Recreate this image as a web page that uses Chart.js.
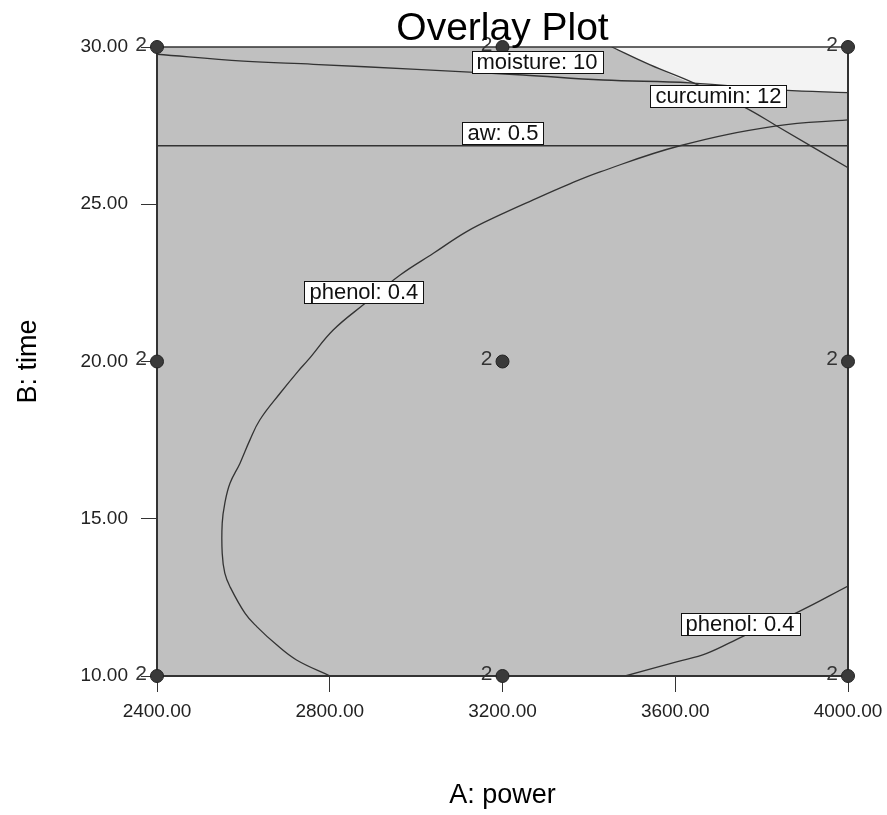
<!DOCTYPE html>
<html>
<head>
<meta charset="utf-8">
<script src="https://cdn.jsdelivr.net/npm/chart.js@4.4.1/dist/chart.umd.min.js"></script>
<style>
html,body{margin:0;padding:0;background:#fff;}
canvas{display:block;}
</style>
</head>
<body>
<canvas id="c" width="887" height="815" style="width:887px;height:815px"></canvas>
<script>
// ---- data ----
const chartTitle = 'Overlay Plot';
const xTitle = 'A: power';
const yTitle = 'B: time';
const xTicks = [2400, 2800, 3200, 3600, 4000];
const yTicks = [10, 15, 20, 25, 30];

const designPower = [2400, 3200, 4000, 2400, 3200, 4000, 2400, 3200, 4000];
const designTime  = [30, 30, 30, 20, 20, 20, 10, 10, 10];
const designReps  = [2, 2, 2, 2, 2, 2, 2, 2, 2];

const moisturePower = [2400, 2600, 2762, 3001, 3247, 3433, 3634, 3850, 4000];
const moistureTime  = [29.77, 29.55, 29.45, 29.29, 29.11, 28.95, 28.86, 28.63, 28.55];

const curcuminPower = [3453, 3542, 3642, 3761, 3835, 4000];
const curcuminTime  = [30.00, 29.43, 28.86, 28.08, 27.49, 26.16];

const awPower = [2400, 4000];
const awTime  = [26.86, 26.86];

const phenolUpperPower = [4000, 3835, 3611, 3426, 3349, 3271, 3194, 3117, 3040, 2963, 2882, 2808, 2750, 2726, 2685, 2638, 2615, 2592, 2569, 2557, 2551, 2551, 2557, 2569, 2604, 2631, 2677, 2723, 2801];
const phenolUpperTime  = [27.68, 27.49, 26.86, 26.03, 25.61, 25.14, 24.66, 24.13, 23.44, 22.75, 21.85, 21.00, 20.05, 19.68, 18.99, 18.14, 17.50, 16.76, 16.13, 15.49, 14.86, 13.90, 13.27, 12.84, 11.99, 11.57, 10.99, 10.51, 10.00];

const phenolLowerPower = [3484, 3603, 3673, 3758, 3885, 4000];
const phenolLowerTime  = [10.00, 10.45, 10.72, 11.27, 12.04, 12.86];

// sweet-spot boundary (region above it is the light area)
const sweetPower = [3453, 3542, 3640, 3850, 4000];
const sweetTime  = [30.00, 29.43, 28.86, 28.63, 28.55];

// contour labels (anchor in data units)
const labelTexts = ['moisture: 10', 'curcumin: 12', 'aw: 0.5', 'phenol: 0.4', 'phenol: 0.4'];
const labelPower = [3280, 3700, 3201, 2879, 3750];
const labelTime  = [29.51, 28.45, 27.26, 22.22, 11.66];

// ---- chart ----
const FONT = "'Liberation Sans', Arial, Helvetica, sans-serif";
const pts = (xs, ys) => xs.map((x, i) => ({x: x, y: ys[i]}));
const LINE = '#333333';

function lineDs(label, xs, ys) {
  return {label, data: pts(xs, ys), borderColor: LINE, borderWidth: 1.3, pointRadius: 0,
          fill: false, tension: 0.4, order: 5, showLine: true};
}

const decorations = {
  id: 'decorations',
  beforeDatasetsDraw(chart) {
    const {ctx, chartArea: a} = chart;
    ctx.save();
    ctx.fillStyle = '#c0c0c0';
    ctx.fillRect(a.left, a.top, a.right - a.left, a.bottom - a.top);
    ctx.restore();
  },
  afterDatasetDraw(chart, args) {
    if (chart.data.datasets[args.index].label !== 'sweet spot') return;
    const {ctx, chartArea: a} = chart;
    ctx.save();
    ctx.strokeStyle = '#333';
    ctx.lineWidth = 2;
    ctx.beginPath();
    ctx.moveTo(a.left, a.top); ctx.lineTo(a.left, a.bottom);
    ctx.lineTo(a.right, a.bottom); ctx.lineTo(a.right, a.top);
    ctx.stroke();
    ctx.lineWidth = 1.5;
    ctx.beginPath();
    ctx.moveTo(a.left, a.top); ctx.lineTo(a.right, a.top);
    ctx.stroke();
    ctx.restore();
  },
  afterDatasetsDraw(chart) {
    const {ctx, scales: {x, y}, chartArea: a} = chart;
    ctx.save();
    // replicate counts
    ctx.font = '21px ' + FONT;
    ctx.fillStyle = '#333';
    ctx.textAlign = 'right';
    ctx.textBaseline = 'middle';
    designPower.forEach((p, i) => {
      ctx.fillText(String(designReps[i]), x.getPixelForValue(p) - 10, y.getPixelForValue(designTime[i]) - 2);
    });
    // contour labels
    ctx.font = '22px ' + FONT;
    ctx.textAlign = 'center';
    labelTexts.forEach((t, i) => {
      const cx = x.getPixelForValue(labelPower[i]);
      const cy = y.getPixelForValue(labelTime[i]);
      const w = Math.round(ctx.measureText(t).width + 10);
      const h = 22;
      const lx = Math.round(cx - w / 2) + 0.5, ty = Math.round(cy - h / 2) + 0.5;
      ctx.fillStyle = '#fff';
      ctx.fillRect(lx, ty, w, h);
      ctx.strokeStyle = '#111';
      ctx.lineWidth = 1;
      ctx.strokeRect(lx, ty, w, h);
      ctx.fillStyle = '#111';
      ctx.fillText(t, cx, cy + 1);
    });
    // chart title
    ctx.font = '39px ' + FONT;
    ctx.fillStyle = '#000';
    ctx.textAlign = 'center';
    ctx.textBaseline = 'alphabetic';
    ctx.fillText(chartTitle, (a.left + a.right) / 2, 40);
    ctx.restore();
  }
};

new Chart(document.getElementById('c'), {
  type: 'line',
  data: {
    datasets: [
      {label: 'sweet spot', data: pts(sweetPower, sweetTime), borderWidth: 0, borderColor: 'rgba(0,0,0,0)',
       backgroundColor: '#f3f3f3', fill: 'end', pointRadius: 0, tension: 0.2, order: 10},
      lineDs('aw: 0.5', awPower, awTime),
      lineDs('moisture: 10', moisturePower, moistureTime),
      lineDs('curcumin: 12', curcuminPower, curcuminTime),
      lineDs('phenol: 0.4 (upper)', phenolUpperPower, phenolUpperTime),
      lineDs('phenol: 0.4 (lower)', phenolLowerPower, phenolLowerTime),
      {label: 'design points', data: pts(designPower, designTime), showLine: false,
       pointRadius: 6.5, pointHoverRadius: 6.5, pointBackgroundColor: '#3a3a3a', pointBorderColor: '#222',
       pointBorderWidth: 1, clip: false, order: 0}
    ]
  },
  options: {
    responsive: false,
    animation: false,
    events: [],
    layout: {padding: {top: 47, right: 39, bottom: 3, left: 0}},
    plugins: {legend: {display: false}, tooltip: {enabled: false}, title: {display: false}},
    scales: {
      x: {
        type: 'linear', min: 2400, max: 4000,
        afterBuildTicks: s => { s.ticks = xTicks.map(v => ({value: v})); },
        afterFit: s => { s.height = 136; s.paddingLeft = 0; s.paddingRight = 0; },
        grid: {drawOnChartArea: false, drawTicks: true, tickLength: 16, color: '#333', lineWidth: 1},
        border: {display: false},
        ticks: {font: {family: FONT, size: 19}, color: '#222', padding: 8, maxRotation: 0,
                autoSkip: false, callback: v => Number(v).toFixed(2)},
        title: {display: true, text: xTitle, font: {family: FONT, size: 27}, color: '#000',
                padding: {top: 0, bottom: 0}}
      },
      y: {
        type: 'linear', min: 10, max: 30,
        afterBuildTicks: s => { s.ticks = yTicks.map(v => ({value: v})); },
        afterFit: s => { s.width = 157; s.paddingTop = 0; s.paddingBottom = 0; },
        grid: {drawOnChartArea: false, drawTicks: true, tickLength: 16, color: '#333', lineWidth: 1},
        border: {display: false},
        ticks: {font: {family: FONT, size: 19}, color: '#222', padding: 13, autoSkip: false,
                callback: v => Number(v).toFixed(2)},
        title: {display: true, text: yTitle, font: {family: FONT, size: 27}, color: '#000',
                padding: {top: 12, bottom: 0}}
      }
    }
  },
  plugins: [decorations]
});
</script>
</body>
</html>
